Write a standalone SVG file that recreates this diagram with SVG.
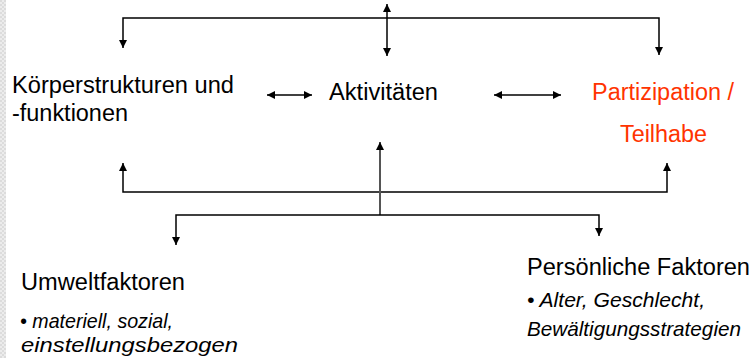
<svg xmlns="http://www.w3.org/2000/svg" width="753" height="358" viewBox="0 0 753 358">
  <style>
    .t { font-family: "Liberation Sans", Arial, sans-serif; font-size: 23px; fill: #000; }
    .red { fill: #ff3300; }
    .it { font-family: "Liberation Sans", Arial, sans-serif; font-size: 21px; font-style: italic; fill: #000; }
    .c { fill: none; stroke: #000; stroke-width: 1.5; }
  </style>
  <defs>
    <marker id="ah" viewBox="0 0 10 10" refX="10" refY="5" markerWidth="8" markerHeight="8" markerUnits="userSpaceOnUse" orient="auto-start-reverse">
      <path d="M0,0 L10,5 L0,10 z" fill="#000"/>
    </marker>
    <pattern id="chk" width="4" height="4" patternUnits="userSpaceOnUse">
      <rect width="4" height="4" fill="#ececec"/>
      <rect width="2" height="2" fill="#dcdcdc"/>
      <rect x="2" y="2" width="2" height="2" fill="#dcdcdc"/>
    </pattern>
  </defs>
  <rect width="753" height="358" fill="#fff"/>
  <rect x="0" y="0" width="6" height="358" fill="url(#chk)"/>

  <g id="connectors">
    <path class="c" d="M123,48 V18 H659 V55" marker-start="url(#ah)" marker-end="url(#ah)"/>
    <path class="c" d="M387,4 V56" marker-start="url(#ah)" marker-end="url(#ah)"/>
    <path class="c" d="M267,95 H312" marker-start="url(#ah)" marker-end="url(#ah)"/>
    <path class="c" d="M494,95 H561" marker-start="url(#ah)" marker-end="url(#ah)"/>
    <path class="c" d="M123,163 V192 H667 V163" marker-start="url(#ah)" marker-end="url(#ah)"/>
    <path class="c" d="M380,215 V142" style="stroke:#555;stroke-width:2" marker-end="url(#ah)"/>
    <path class="c" d="M176,245 V215 H599 V236" marker-start="url(#ah)" marker-end="url(#ah)"/>
  </g>

  <g id="koerper">
    <text class="t" x="12" y="93" textLength="222" lengthAdjust="spacingAndGlyphs">Körperstrukturen und</text>
    <text class="t" x="12" y="121" textLength="116" lengthAdjust="spacingAndGlyphs">-funktionen</text>
  </g>
  <g id="aktivitaeten">
    <text class="t" x="329" y="100" textLength="109" lengthAdjust="spacingAndGlyphs">Aktivitäten</text>
  </g>
  <g id="partizipation">
    <text class="t red" x="592" y="100" textLength="142" lengthAdjust="spacingAndGlyphs">Partizipation /</text>
    <text class="t red" x="620" y="142" textLength="87" lengthAdjust="spacingAndGlyphs">Teilhabe</text>
  </g>
  <g id="umwelt">
    <text class="t" x="21" y="290" textLength="164" lengthAdjust="spacingAndGlyphs">Umweltfaktoren</text>
    <text class="it" x="20" y="328" textLength="153" lengthAdjust="spacingAndGlyphs">• materiell, sozial,</text>
    <text class="it" x="21" y="352" textLength="217" lengthAdjust="spacingAndGlyphs">einstellungsbezogen</text>
  </g>
  <g id="persoenlich">
    <text class="t" x="527" y="275" textLength="223" lengthAdjust="spacingAndGlyphs">Persönliche Faktoren</text>
    <text class="it" x="527" y="307" textLength="178" lengthAdjust="spacingAndGlyphs">• Alter, Geschlecht,</text>
    <text class="it" x="527" y="336" textLength="214" lengthAdjust="spacingAndGlyphs">Bewältigungsstrategien</text>
  </g>
</svg>
